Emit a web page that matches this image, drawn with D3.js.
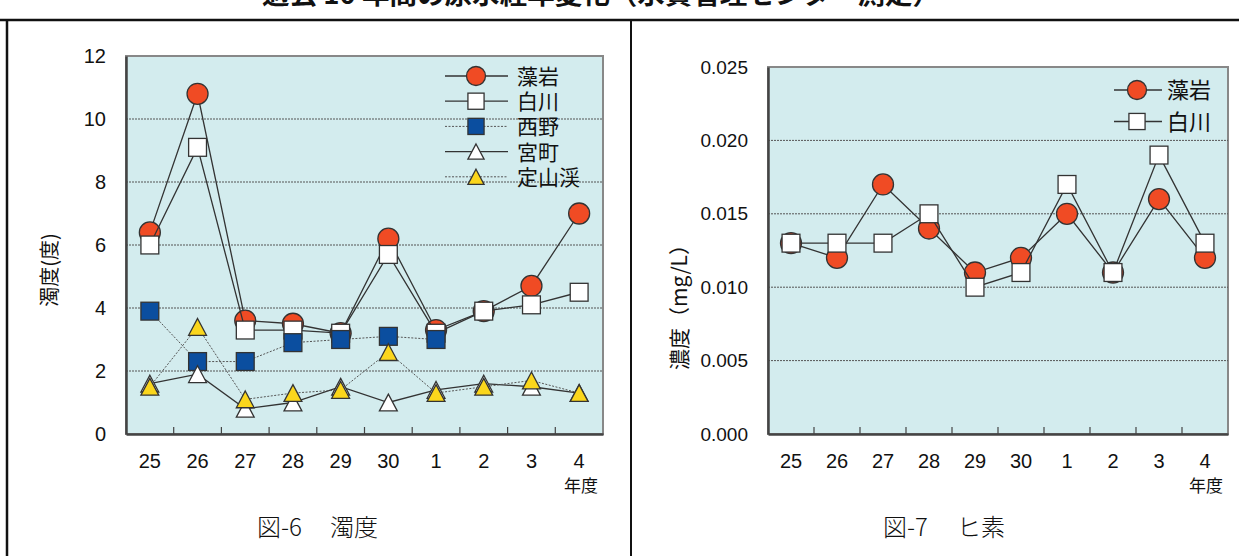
<!DOCTYPE html>
<html><head><meta charset="utf-8">
<script src="https://cdn.jsdelivr.net/npm/d3@7"></script>
<style>
html,body{margin:0;padding:0;background:#fff;}
svg{display:block;}
</style></head>
<body>
<svg id="c" width="1239" height="556"></svg>
<script>
// ---- data ----
const titleText = "過去 10 年間の原水経年変化（水質管理センター測定）";
const years = ["25","26","27","28","29","30","1","2","3","4"];
const turbTicks = [0,2,4,6,8,10,12];
const arsenicTicks = [0,0.005,0.010,0.015,0.020,0.025];

const seriesNames = ["藻岩","白川","西野","宮町","定山渓"];
const moiwaTurb     = [6.4,10.8,3.6,3.5,3.2,6.2,3.3,3.9,4.7,7.0];
const shirakawaTurb = [6.0,9.1,3.3,3.3,3.2,5.7,3.2,3.9,4.1,4.5];
const nishinoTurb   = [3.9,2.3,2.3,2.9,3.0,3.1,3.0,null,null,null];
const miyamachiTurb = [1.6,1.9,0.8,1.0,1.5,1.0,1.4,1.6,1.5,1.3];
const jozankeiTurb  = [1.5,3.4,1.1,1.3,1.4,2.6,1.3,1.5,1.7,1.3];

const moiwaAs     = [0.013,0.012,0.017,0.014,0.011,0.012,0.015,0.011,0.016,0.012];
const shirakawaAs = [0.013,0.013,0.013,0.015,0.010,0.011,0.017,0.011,0.019,0.013];

// ---- styles ----
const BG = "#d3ecee";
const RED = "#f04b24", BLUE = "#0b4e9f", YEL = "#fbd61c";
const STROKE = "#333";
const styles = {
  "藻岩":  {shape:"circle", fill:RED, dash:null},
  "白川":  {shape:"square", fill:"#fff", dash:null},
  "西野":  {shape:"square", fill:BLUE, dash:"2,1.5"},
  "宮町":  {shape:"triangle", fill:"#fff", dash:null},
  "定山渓":{shape:"triangle", fill:YEL, dash:"2,1.5"}
};

const svg = d3.select("#c");
const FONT = "'Liberation Sans', Arial, sans-serif";
const NARROW = "'Liberation Sans Narrow', 'Liberation Sans', Arial, sans-serif";
const CJK = "'Noto Sans CJK JP', sans-serif";

// title (cut off at top)
svg.append("text").attr("x",262).attr("y",4)
  .attr("font-family",CJK).attr("font-weight","bold").attr("font-size",26)
  .attr("textLength",678).attr("lengthAdjust","spacingAndGlyphs")
  .attr("fill","#111").text(titleText);

// frame
const frameY = 20;
svg.append("line").attr("x1",0).attr("x2",1239).attr("y1",frameY).attr("y2",frameY).attr("stroke","#111").attr("stroke-width",2.5);
svg.append("line").attr("x1",7).attr("x2",7).attr("y1",frameY).attr("y2",556).attr("stroke","#111").attr("stroke-width",2.5);
svg.append("line").attr("x1",631).attr("x2",631).attr("y1",frameY).attr("y2",556).attr("stroke","#111").attr("stroke-width",2);

function marker(g, shape, fill, size){
  if(shape==="circle"){
    g.append("circle").attr("r",size/2).attr("fill",fill).attr("stroke",STROKE).attr("stroke-width",1.3);
  } else if(shape==="square"){
    const s=size*0.85;
    g.append("rect").attr("x",-s/2).attr("y",-s/2).attr("width",s).attr("height",s)
      .attr("fill",fill).attr("stroke",STROKE).attr("stroke-width",1.3);
  } else {
    const w=size*0.85, h=size*0.8;
    g.append("path").attr("d",`M0,${-h/2}L${w/2},${h/2}L${-w/2},${h/2}Z`)
      .attr("fill",fill).attr("stroke",STROKE).attr("stroke-width",1.3);
  }
}

function drawChart(opt){
  const {left,right,top,bottom,domain,ticks,fmt,series,mSize,yFont} = opt;
  const g = svg.append("g");
  const x = d3.scaleBand().domain(years).range([left,right]).padding(0);
  const y = d3.scaleLinear().domain(domain).range([bottom,top]);
  g.append("rect").attr("x",left).attr("y",top).attr("width",right-left).attr("height",bottom-top)
    .attr("fill",BG).attr("stroke","#888").attr("stroke-width",2);
  // gridlines
  g.selectAll(".grid").data(ticks.filter(t=>t>domain[0]&&t<domain[1])).join("line")
    .attr("x1",left).attr("x2",right).attr("y1",d=>y(d)).attr("y2",d=>y(d))
    .attr("stroke","#555").attr("stroke-width",1).attr("stroke-dasharray","2,1");
  // y axis
  const ya = g.append("g").attr("transform",`translate(${left},0)`)
    .call(d3.axisLeft(y).tickValues(ticks).tickFormat(fmt).tickSize(0).tickPadding(20));
  ya.select(".domain").attr("stroke","#444").attr("stroke-width",2.5);
  ya.selectAll("text").attr("font-family",FONT).attr("font-size",yFont).attr("fill","#111");
  // x axis
  const xa = g.append("g").attr("transform",`translate(0,${bottom})`)
    .call(d3.axisBottom(x).tickSize(0).tickPadding(20));
  xa.select(".domain").attr("stroke","#444").attr("stroke-width",2.5);
  xa.selectAll("text").attr("font-family",NARROW).attr("font-size",20).attr("fill","#111");
  // inner tick marks at band boundaries
  g.selectAll(".xt").data(years.slice(1)).join("line")
    .attr("x1",d=>x(d)).attr("x2",d=>x(d)).attr("y1",bottom).attr("y2",bottom-7)
    .attr("stroke","#444").attr("stroke-width",1.2);
  g.append("text").attr("x",right-5).attr("y",bottom+58).attr("text-anchor","end")
    .attr("font-family",CJK).attr("font-size",17).attr("fill","#111").text("年度");
  // series
  series.forEach(s=>{
    const st = styles[s.name];
    const pts = s.values.map((v,i)=>({k:years[i],v})).filter(d=>d.v!=null);
    const line = d3.line().x(d=>x(d.k)+x.bandwidth()/2).y(d=>y(d.v));
    g.append("path").attr("d",line(pts)).attr("fill","none")
      .attr("stroke",st.dash?"#555":STROKE).attr("stroke-width",st.dash?1:1.3)
      .attr("stroke-dasharray",st.dash);
    pts.forEach(d=>{
      const mg = g.append("g").attr("transform",`translate(${x(d.k)+x.bandwidth()/2},${y(d.v)})`);
      marker(mg, st.shape, st.fill, mSize);
    });
  });
  return {x,y,g};
}

function caption(x0, a, x1, b){
  const t = svg.append("text").attr("y",536)
    .attr("font-family",CJK).attr("font-weight",300).attr("font-size",24).attr("fill","#111");
  t.append("tspan").attr("x",x0).text(a);
  t.append("tspan").attr("x",x1).text(b);
}

// chart 1: turbidity
drawChart({left:126,right:603,top:56,bottom:434,domain:[0,12],ticks:turbTicks,
  fmt:d3.format("d"), mSize:21, yFont:20,
  series:[{name:"藻岩",values:moiwaTurb},{name:"白川",values:shirakawaTurb},{name:"西野",values:nishinoTurb},
          {name:"宮町",values:miyamachiTurb},{name:"定山渓",values:jozankeiTurb}]});
svg.append("text").attr("transform","translate(57,270) rotate(-90)").attr("text-anchor","middle")
  .attr("font-family",CJK).attr("font-size",20).attr("fill","#111").text("濁度(度)");
caption(257, "図-6", 330, "濁度");

// legend 1
seriesNames.forEach((n,i)=>{
  const st = styles[n], yy = 76 + i*25.2;
  svg.append("line").attr("x1",445).attr("x2",508).attr("y1",yy).attr("y2",yy)
    .attr("stroke",st.dash?"#555":STROKE).attr("stroke-width",st.dash?1:1.3).attr("stroke-dasharray",st.dash);
  marker(svg.append("g").attr("transform",`translate(476,${yy})`), st.shape, st.fill, 19);
  svg.append("text").attr("x",517).attr("y",yy+8).attr("font-family",CJK).attr("font-size",21)
    .attr("fill","#111").text(n);
});

// chart 2: arsenic
drawChart({left:768,right:1228,top:67,bottom:434,domain:[0,0.025],ticks:arsenicTicks,
  fmt:d3.format(".3f"), mSize:21, yFont:19,
  series:[{name:"藻岩",values:moiwaAs},{name:"白川",values:shirakawaAs}]});
svg.append("text").attr("transform","translate(687,302) rotate(-90)").attr("text-anchor","middle")
  .attr("font-family",CJK).attr("font-size",21).attr("fill","#111").text("濃度（mg/L）");
caption(883, "図-7", 957, "ヒ素");

["藻岩","白川"].forEach((n,i)=>{
  const st = styles[n], yy = 90 + i*31.5;
  svg.append("line").attr("x1",1114).attr("x2",1162).attr("y1",yy).attr("y2",yy)
    .attr("stroke",STROKE).attr("stroke-width",1.3);
  marker(svg.append("g").attr("transform",`translate(1137,${yy})`), st.shape, st.fill, 19);
  svg.append("text").attr("x",1167).attr("y",yy+8).attr("font-family",CJK).attr("font-size",22)
    .attr("fill","#111").text(n);
});
</script>
</body></html>
